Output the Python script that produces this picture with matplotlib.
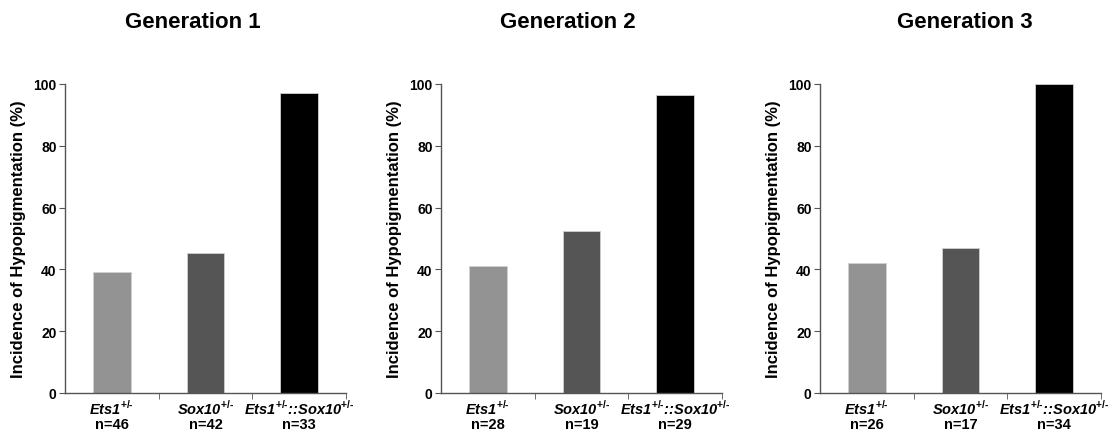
import matplotlib.pyplot as plt

plt.rcParams['font.family'] = 'Liberation Sans'
plt.rcParams['font.weight'] = 'bold'
plt.rcParams['mathtext.fontset'] = 'custom'
plt.rcParams['mathtext.rm'] = 'Liberation Sans:bold'
plt.rcParams['mathtext.sf'] = 'Liberation Sans:bold:italic'
plt.rcParams['mathtext.bf'] = 'Liberation Sans:bold'

# Incidence of hypopigmentation (%) per genotype, per generation
genotypes = [r'$\mathsf{Ets1}^{\text{+/-}}$', r'$\mathsf{Sox10}^{\text{+/-}}$',
             r'$\mathsf{Ets1}^{\text{+/-}}$::$\mathsf{Sox10}^{\text{+/-}}$']
titles = ['Generation 1', 'Generation 2', 'Generation 3']
incidence = [
    [39.1, 45.2, 97.0],
    [41.2, 52.5, 96.4],
    [42.2, 47.0, 100.0],
]
counts = [
    [46, 42, 33],
    [28, 19, 29],
    [26, 17, 34],
]
bar_colors = ['#939393', '#555555', '#000000']

W, H = 1112, 431
fig = plt.figure(figsize=(W / 100, H / 100), dpi=100)

lefts = [65, 441, 820]        # left edge of each panel (px)
title_x = [193, 568, 965]     # title centres (px)
for i in range(3):
    ax = fig.add_axes([lefts[i] / W, 1 - 394 / H, 281 / W, 309 / H])
    x = range(3)
    ax.bar(x, incidence[i], width=0.4, color=bar_colors, edgecolor='#d0d0d0', linewidth=0.6)
    ax.set_xlim(-0.5, 2.5)
    ax.set_ylim(0, 100)
    ax.set_yticks([0, 20, 40, 60, 80, 100])
    ax.set_xticks(list(x))
    ax.set_xticklabels(genotypes, fontsize=10.5, fontweight='bold', fontstyle='italic')
    ax.set_xticks([0.5, 1.5, 2.5], minor=True)
    ax.tick_params(axis='x', which='major', length=0, pad=4)
    ax.tick_params(axis='x', which='minor', length=4, direction='out', color='#555555')
    ax.tick_params(axis='y', length=4, direction='out', color='#555555', labelsize=10, pad=2)
    for s in ['top', 'right']:
        ax.spines[s].set_visible(False)
    for s in ['left', 'bottom']:
        ax.spines[s].set_color('#555555')
        ax.spines[s].set_linewidth(1.0)
    ax.set_ylabel('Incidence of Hypopigmentation (%)', fontsize=12, fontweight='bold', labelpad=5)
    # sample sizes under each genotype
    for xi, n in zip(x, counts[i]):
        ax.annotate(f'n={n}', xy=(xi, 0), xycoords=('data', 'axes fraction'),
                    xytext=(0, -17), textcoords='offset points', ha='center', va='top',
                    fontsize=10.5, fontweight='bold')
    fig.text(title_x[i] / W, 1 - 22 / H, titles[i], ha='center', va='center',
             fontsize=16, fontweight='bold')

plt.savefig('out.png', dpi=100)
